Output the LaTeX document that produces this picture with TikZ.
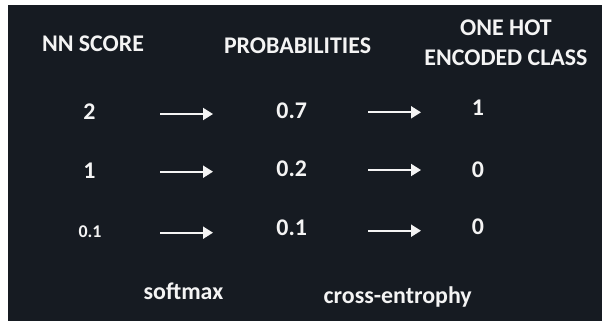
\documentclass[tikz,border=0pt]{standalone}
\usepackage{fontspec}
\setmainfont{Carlito}
\usetikzlibrary{arrows.meta}
\definecolor{panel}{HTML}{161B22}
\definecolor{ink}{HTML}{F4F4F4}
\tikzset{
  label/.style={text=ink, font=\bfseries\fontsize{24}{30}\selectfont, inner sep=0pt, anchor=base, align=center},
  small/.style={label, font=\bfseries\fontsize{18}{22}\selectfont},
  flow/.style={draw=ink, line width=2bp, -{Triangle[length=10bp,width=12bp]}}
}
\begin{document}
\begin{tikzpicture}[x=1bp, y=-1bp]
  % page and dark panel
  \fill[white] (0,0) rectangle (603,321);
  \fill[panel] (8,5) rectangle (602,321);
  \useasboundingbox (0,0) rectangle (603,321);

  % column headings (a two-line node sits on the baseline of its last line)
  \node[label] (hscore) at (93,51) {NN SCORE};
  \node[label] (hprob) at (297.5,53) {PROBABILITIES};
  \node[label] (hclass) at (506,65.7) {ONE HOT\\ENCODED CLASS};

  % scores
  \node[label] (s1) at (89.5,119) {2};
  \node[label] (s2) at (89.5,178) {1};
  \node[small] (s3) at (90,237) {0.1};

  % probabilities
  \node[label] (p1) at (291.7,118.3) {0.7};
  \node[label] (p2) at (291.7,176.7) {0.2};
  \node[label] (p3) at (291.7,235.7) {0.1};

  % one hot targets
  \node[label] (c1) at (478,115.7) {1};
  \node[label] (c2) at (478,177.7) {0};
  \node[label] (c3) at (478,234) {0};

  % arrow ends
  \coordinate (a1s) at (160,114);   \coordinate (a1e) at (213,114);
  \coordinate (a2s) at (160,171.7); \coordinate (a2e) at (213,171.7);
  \coordinate (a3s) at (160,232.7); \coordinate (a3e) at (213,232.7);
  \coordinate (b1s) at (368,112.3); \coordinate (b1e) at (421,112.3);
  \coordinate (b2s) at (368,170);   \coordinate (b2e) at (421,170);
  \coordinate (b3s) at (368,230.7); \coordinate (b3e) at (421,230.7);

  \draw[flow] (a1s) -- (a1e);
  \draw[flow] (a2s) -- (a2e);
  \draw[flow] (a3s) -- (a3e);
  \draw[flow] (b1s) -- (b1e);
  \draw[flow] (b2s) -- (b2e);
  \draw[flow] (b3s) -- (b3e);

  % step names
  \node[label] (fsoft) at (183.5,299) {softmax};
  \node[label] (fce) at (397.7,303) {cross-entrophy};
\end{tikzpicture}
\end{document}
